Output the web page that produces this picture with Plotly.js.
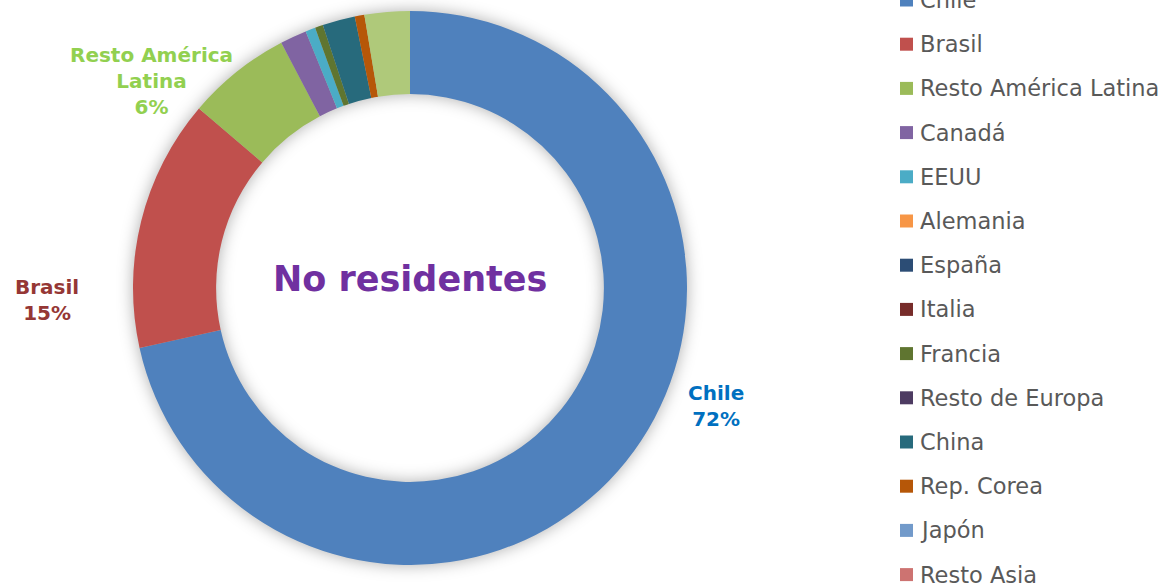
<!DOCTYPE html>
<html><head><meta charset="utf-8">
<script src="https://cdn.plot.ly/plotly-3.0.1.min.js"></script>
<style>
html,body{margin:0;padding:0;background:#fff;}
#chart{width:1171px;height:586px;}
.pielayer .trace{filter:drop-shadow(0px 0px 8px rgba(0,0,0,0.32));}
</style>
</head><body>
<div id="chart"></div>
<script>
// Data
var categories = ["Chile","Brasil","Resto América Latina","Canadá","EEUU","Alemania","España","Italia","Francia","Resto de Europa","China","Rep. Corea","Japón","Resto Asia","Resto del mundo"];
var values = [71.6, 14.7, 6.1, 1.55, 0.58, 0, 0, 0, 0.47, 0, 1.9, 0.56, 0, 0, 2.64];
var colors = ["#4F81BD","#C0504D","#9BBB59","#8064A2","#4BACC6","#F79646","#2C4D75","#772C2A","#5F7530","#4D3B62","#276A7C","#B65708","#729ACA","#CD7371","#AFC97A"];
var legendShown = 14; // entries visible in the legend column
var labeled = ["Chile","Brasil","Resto América Latina"];
var labelText = {"Chile":"Chile","Brasil":"Brasil","Resto América Latina":"Resto América<br>Latina"};
var labelColors = {"Chile":"#0070C0","Brasil":"#953735","Resto América Latina":"#92D050"};
var labelPos = {"Chile":[716,406],"Brasil":[47,300],"Resto América Latina":[151,81]};
var centerTitle = "No residentes";

var W = 1171, H = 586;
var total = values.reduce(function(a,b){return a+b;},0);
var cx = 410, cy = 288, R = 277;

var trace = {
  type: 'pie',
  labels: categories,
  values: values,
  marker: {colors: colors, line: {width: 0}},
  hole: 0.70,
  sort: false,
  direction: 'clockwise',
  rotation: 0,
  textinfo: 'none',
  hoverinfo: 'label+percent',
  showlegend: false,
  domain: {x: [(cx-R)/W, (cx+R)/W], y: [(H-cy-R)/H, (H-cy+R)/H]}
};

var annotations = [];
var shapes = [];
var font = "Century Gothic, DejaVu Sans, sans-serif";

labeled.forEach(function(name){
  var i = categories.indexOf(name);
  var pct = Math.round(values[i]/total*100);
  var p = labelPos[name];
  annotations.push({
    xref:'paper', yref:'paper', x: p[0]/W, y: 1 - p[1]/H,
    xanchor:'center', yanchor:'middle', showarrow:false, align:'center',
    text: '<b>' + labelText[name] + '<br>' + pct + '%</b>',
    font: {family: font, size: 20, color: labelColors[name]}
  });
});

annotations.push({
  xref:'paper', yref:'paper', x: cx/W, y: 1 - 279/H,
  xanchor:'center', yanchor:'middle', showarrow:false,
  text: '<b>' + centerTitle + '</b>',
  font: {family: font, size: 35, color: '#7030A0'}
});

// Legend column
var legX = 900, legY0 = 0, legStep = 44.2, sq = 13;
for (var k = 0; k < legendShown; k++) {
  var yc = legY0 + k*legStep;
  shapes.push({
    type:'rect', xref:'paper', yref:'paper',
    x0: legX/W, x1: (legX+sq)/W, y0: 1-(yc+sq/2)/H, y1: 1-(yc-sq/2)/H,
    fillcolor: colors[k], line:{width:0}
  });
  annotations.push({
    xref:'paper', yref:'paper', x: (legX+sq+5)/W, y: 1 - yc/H,
    xanchor:'left', yanchor:'middle', showarrow:false,
    text: categories[k],
    font: {family: font, size: 22.5, color: '#595959'}
  });
}

var layout = {
  width: W, height: H,
  margin: {l:0, r:0, t:0, b:0},
  paper_bgcolor: '#ffffff',
  plot_bgcolor: '#ffffff',
  showlegend: false,
  annotations: annotations,
  shapes: shapes
};

Plotly.newPlot('chart', [trace], layout, {displayModeBar: false, staticPlot: true});
</script>
</body></html>
